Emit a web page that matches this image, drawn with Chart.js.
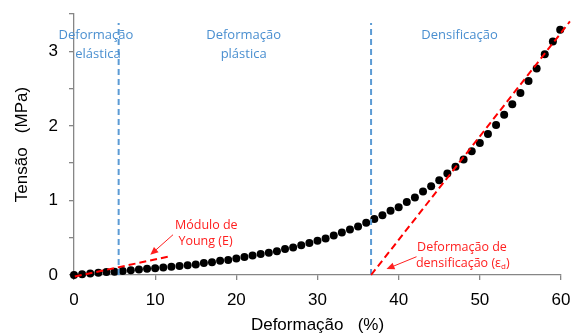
<!DOCTYPE html>
<html>
<head>
<meta charset="utf-8">
<style>body{margin:0;background:#fff}</style>
</head>
<body>
<canvas id="myChart" width="573" height="336"></canvas>
<script src="https://cdn.jsdelivr.net/npm/chart.js@4/dist/chart.umd.min.js"></script>
<script>
// strain (%) and stress (MPa)
const strain = [0,1,2,3,4,5,6,7,8,9,10,11,12,13,14,15,16,17,18,19,20,21,22,23,24,25,26,27,28,29,30,
                31,32,33,34,35,36,37,38,39,40,41,42,43,44,45,46,47,48,49,50,51,52,53,54,55,56,57,58,59,59.9];
const stress = [0,0.01,0.02,0.03,0.04,0.045,0.055,0.065,0.075,0.085,0.09,0.10,0.11,0.12,0.13,0.14,0.16,0.17,0.19,0.20,0.22,
                0.24,0.26,0.28,0.30,0.32,0.35,0.37,0.40,0.43,0.46,0.49,0.53,0.57,0.61,0.65,0.70,0.75,0.80,0.86,0.91,
                0.98,1.04,1.12,1.19,1.27,1.36,1.45,1.55,1.66,1.77,1.89,2.01,2.15,2.29,2.44,2.60,2.77,2.96,3.13,3.29];

// tangent lines
const youngX = [0.1, 12.0];
const youngY = [-0.02, 0.255];
const densX = [36.6, 61.1];
const densY = [0, 3.40];

// region limits (vertical dashed lines)
const elasticEnd = 5.5;
const densStart = 36.6;
const regionTop = 3.38;

// region labels [text, x, y]
const regionLabels = [
  ['Deformação', 2.7, 3.21], ['elástica', 2.95, 2.96],
  ['Deformação', 20.9, 3.21], ['plástica', 20.9, 2.96],
  ['Densificação', 47.5, 3.21]
];
// red notes [text, x, y]
const noteLabels = [
  ['Módulo de', 16.3, 0.67], ['Young (E)', 16.2, 0.455],
  ['Deformação de', 47.8, 0.366]
];
// arrows [fromX, fromY, toX, toY]
const arrows = [
  [12.2, 0.54, 9.4, 0.27],
  [42.2, 0.245, 38.5, 0.08]
];

const pts = (xs, ys) => xs.map((x, i) => ({x: x, y: ys[i]}));

const notes = {
  id: 'notes',
  afterDatasetsDraw(chart) {
    const ctx = chart.ctx;
    const sx = chart.scales.x, sy = chart.scales.y;
    ctx.save();
    ctx.textAlign = 'center';
    ctx.textBaseline = 'middle';
    ctx.font = '13px "Open Sans"';
    ctx.fillStyle = '#4a8fd0';
    regionLabels.forEach(l => ctx.fillText(l[0], sx.getPixelForValue(l[1]), sy.getPixelForValue(l[2])));
    ctx.font = '12.5px "Open Sans"';
    ctx.fillStyle = '#ff2020';
    noteLabels.forEach(l => ctx.fillText(l[0], sx.getPixelForValue(l[1]), sy.getPixelForValue(l[2])));
    // densificação (εd) with subscript
    const main = 'densificação (ε';
    const wMain = ctx.measureText(main).width;
    ctx.font = '8px "Open Sans"';
    const wSub = ctx.measureText('d').width;
    ctx.font = '12.5px "Open Sans"';
    const wEnd = ctx.measureText(')').width;
    const cx = sx.getPixelForValue(47.9), cy = sy.getPixelForValue(0.154);
    let x0 = cx - (wMain + wSub + wEnd) / 2;
    ctx.textAlign = 'left';
    ctx.fillText(main, x0, cy);
    ctx.font = '8px "Open Sans"';
    ctx.fillText('d', x0 + wMain, cy + 3);
    ctx.font = '12.5px "Open Sans"';
    ctx.fillText(')', x0 + wMain + wSub, cy);
    // arrows
    ctx.strokeStyle = '#ff2020';
    ctx.lineWidth = 1;
    arrows.forEach(a => {
      const x1 = sx.getPixelForValue(a[0]), y1 = sy.getPixelForValue(a[1]);
      const x2 = sx.getPixelForValue(a[2]), y2 = sy.getPixelForValue(a[3]);
      const ang = Math.atan2(y2 - y1, x2 - x1);
      ctx.beginPath();
      ctx.moveTo(x1, y1);
      ctx.lineTo(x2 - 6 * Math.cos(ang), y2 - 6 * Math.sin(ang));
      ctx.stroke();
      ctx.beginPath();
      ctx.moveTo(x2, y2);
      ctx.lineTo(x2 - 8 * Math.cos(ang) + 3.5 * Math.sin(ang), y2 - 8 * Math.sin(ang) - 3.5 * Math.cos(ang));
      ctx.lineTo(x2 - 8 * Math.cos(ang) - 3.5 * Math.sin(ang), y2 - 8 * Math.sin(ang) + 3.5 * Math.cos(ang));
      ctx.closePath();
      ctx.fill();
    });
    ctx.restore();
  }
};

const axisColor = '#868686';
const tickFont = {family: '"Liberation Sans", Arial', size: 17};

new Chart('myChart', {
  type: 'scatter',
  data: {
    datasets: [
      {data: pts(youngX, youngY), showLine: true, borderColor: '#ff0000', borderWidth: 2,
       borderDash: [7, 4], pointRadius: 0, clip: false},
      {data: pts(densX, densY), showLine: true, borderColor: '#ff0000', borderWidth: 2,
       borderDash: [7, 4], pointRadius: 0, clip: false},
      {data: pts([elasticEnd, elasticEnd], [0, regionTop]), showLine: true, borderColor: '#5b9bd5',
       borderWidth: 2, borderDash: [6, 4], pointRadius: 0},
      {data: pts([densStart, densStart], [0, regionTop]), showLine: true, borderColor: '#5b9bd5',
       borderWidth: 2, borderDash: [6, 4], pointRadius: 0},
      {data: pts(strain, stress), backgroundColor: '#000', borderWidth: 0, pointRadius: 4, clip: false}
    ]
  },
  options: {
    responsive: false,
    animation: false,
    layout: {padding: {top: 14, right: 12, left: 0, bottom: 0}},
    plugins: {legend: {display: false}, tooltip: {enabled: false}},
    scales: {
      x: {
        type: 'linear', min: 0, max: 60,
        afterFit: s => { s.height = 61; s.paddingLeft = 0; s.paddingRight = 0; },
        ticks: {stepSize: 10, color: '#000', font: tickFont, padding: 10},
        grid: {drawOnChartArea: false, tickLength: 5, color: axisColor, lineWidth: 1.3},
        border: {color: axisColor, width: 1.3},
        title: {display: true, text: 'Deformação   (%)', color: '#000', font: tickFont, padding: 0}
      },
      y: {
        min: 0, max: 3.5,
        afterFit: s => { s.width = 74; s.paddingTop = 0; s.paddingBottom = 0; },
        ticks: {stepSize: 0.5, color: '#000', font: tickFont, padding: 11,
                callback: v => Number.isInteger(v) ? v : ''},
        grid: {drawOnChartArea: false, tickLength: 5, color: axisColor, lineWidth: 1.3},
        border: {color: axisColor, width: 1.3},
        title: {display: true, text: 'Tensão   (MPa)', color: '#000', font: tickFont, padding: {top: 12, bottom: 0}}
      }
    }
  },
  plugins: [notes]
});
</script>
</body>
</html>
